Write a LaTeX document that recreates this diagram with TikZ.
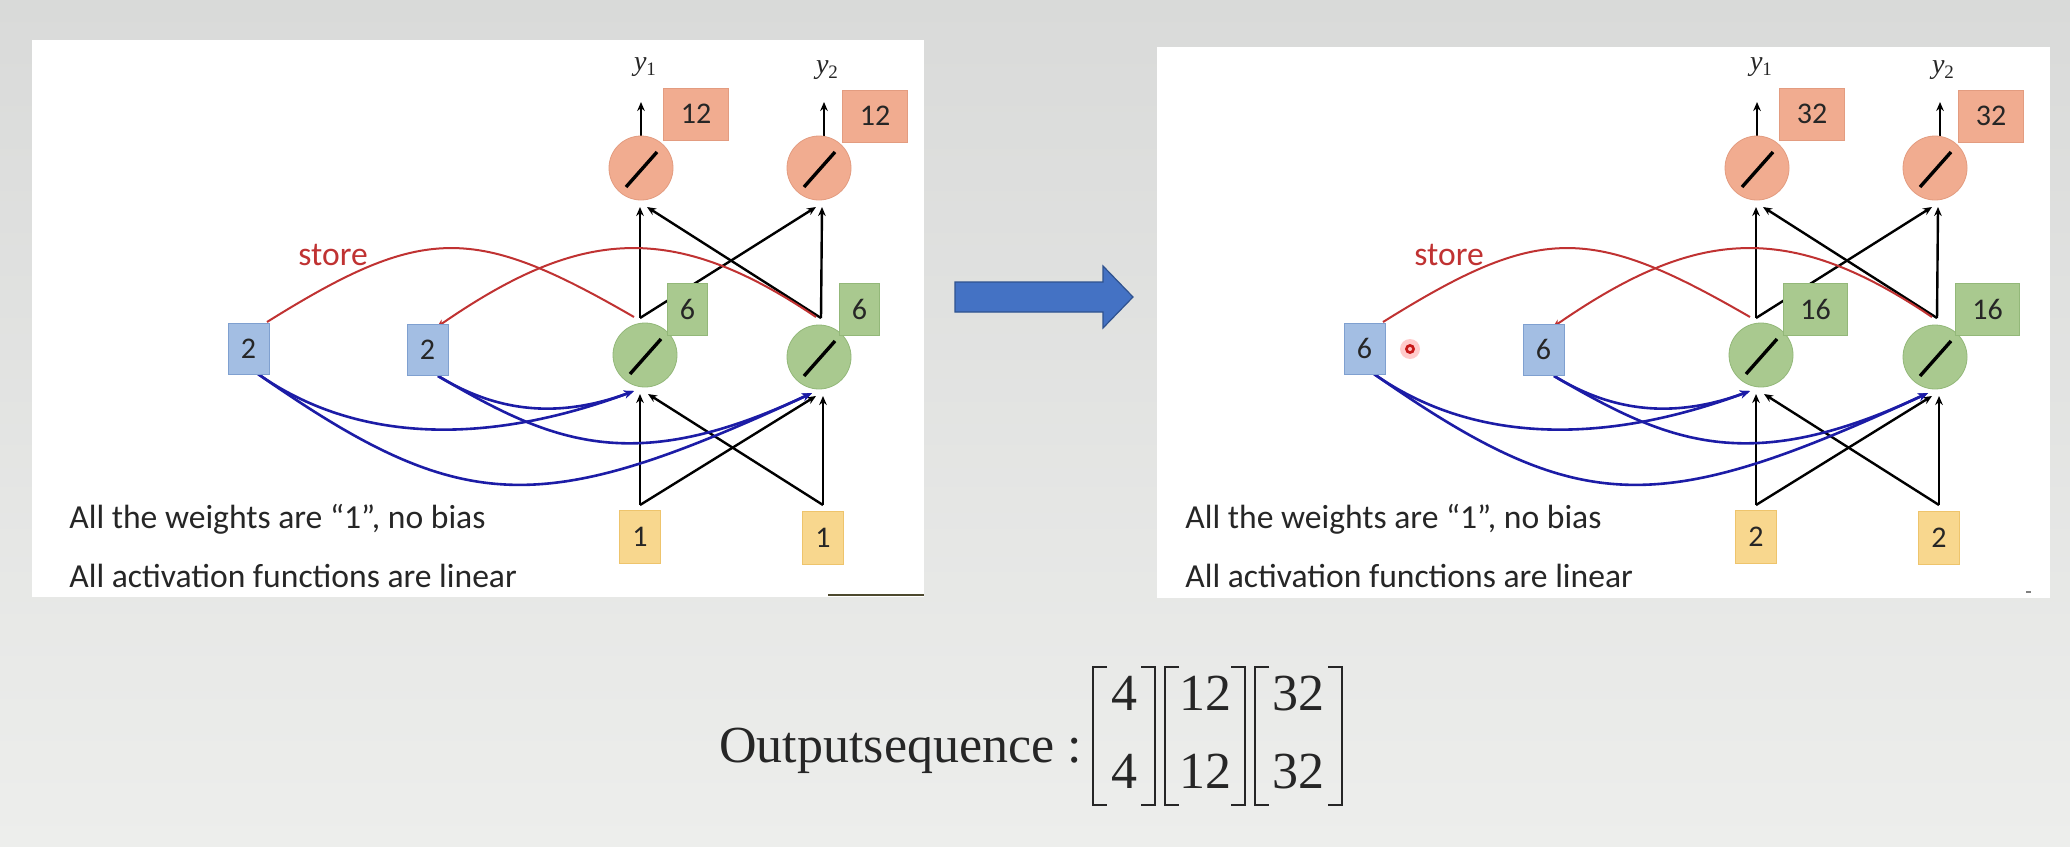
\documentclass[tikz,border=0pt]{standalone}
\usepackage{fontspec}
\setmainfont{Carlito}
\newfontfamily\tms{Liberation Serif}
\usetikzlibrary{arrows.meta,calc}
\definecolor{bgtop}{HTML}{D9DAD9}
\definecolor{bgbot}{HTML}{EDEEEC}
\definecolor{txtc}{HTML}{262626}
\definecolor{orf}{HTML}{F1AC90}
\definecolor{ord}{HTML}{E39C80}
\definecolor{grf}{HTML}{A9C98F}
\definecolor{grd}{HTML}{93B879}
\definecolor{blf}{HTML}{A3BEE3}
\definecolor{bld}{HTML}{7FA0D0}
\definecolor{ylf}{HTML}{F8D78E}
\definecolor{yld}{HTML}{EEC46C}
\definecolor{redc}{HTML}{C03232}
\definecolor{bluec}{HTML}{1C1CA6}
\definecolor{arrf}{HTML}{4472C4}
\definecolor{arrd}{HTML}{2F528F}
\pgfdeclarelayer{back}
\pgfdeclarelayer{mid}
\pgfsetlayers{back,mid,main}
\tikzset{
  box/.style={rectangle, inner sep=0pt, line width=0.5pt, text=txtc,
    font=\fontsize{15pt}{15pt}\selectfont},
  bbox/.style={box, fill=blf, draw=bld, minimum width=20.5pt, minimum height=25.5pt},
  ybox/.style={box, fill=ylf, draw=yld, minimum width=20.5pt, minimum height=26.5pt},
  gbox/.style={box, fill=grf, draw=grd, minimum height=26pt},
  obox/.style={box, fill=orf, draw=ord, minimum width=32.5pt, minimum height=26pt},
  ocirc/.style={circle, fill=orf, draw=ord, line width=0.4pt, minimum size=32pt, inner sep=0pt},
  gcirc/.style={circle, fill=grf, draw=grd, line width=0.4pt, minimum size=32pt, inner sep=0pt},
  slash/.style={line width=1.7pt, black},
  blk/.style={line width=1.2pt, black, -{Stealth[length=4.5pt,width=3.8pt]}},
  redl/.style={line width=1pt, redc},
  bluel/.style={line width=1.3pt, bluec, -{Stealth[length=5pt,width=4pt]}},
  txt/.style={text=txtc, font=\fontsize{16.8pt}{20pt}\selectfont, inner sep=0pt},
  ylab/.style={text=txtc, inner sep=0pt},
  brk/.style={line width=1pt, txtc},
  mtx/.style={text=txtc, inner sep=0pt, font=\tms\fontsize{26pt}{26pt}\selectfont}
}
\newcommand\ylabel[1]{{\tms\itshape\fontsize{14pt}{14pt}\selectfont y}\raisebox{-2.5pt}{\tms\fontsize{9.5pt}{9.5pt}\selectfont #1}}
% #1 xshift, #2 prefix, #3 blue, #4 yellow, #5 green, #6 orange, #7 green box width
\newcommand\panel[7]{%
\begin{scope}[xshift=#1]
  \node[bbox] (#2b1) at (248.5,348.5) {#3};
  \node[bbox] (#2b2) at (427.5,349.5) {#3};
  \node[ocirc] (#2o1) at (641,168) {};
  \node[ocirc] (#2o2) at (819,168) {};
  \node[gcirc] (#2g1) at (645,355) {};
  \node[gcirc] (#2g2) at (819,357) {};
  \foreach \c in {#2o1,#2o2,#2g1,#2g2}{
    \draw[slash] ($(\c)+(-15,19)$) -- ($(\c)+(16,-16)$);
  }
  \node[ybox] (#2y1) at (640,537) {#4};
  \node[ybox] (#2y2) at (823,538) {#4};
  \node[obox, anchor=west] (#2ob1) at (663,114) {#6};
  \node[obox, anchor=west] (#2ob2) at (842,116) {#6};
  \node[gbox, minimum width=#7, anchor=west] (#2gb1) at (667,309) {#5};
  \node[gbox, minimum width=#7, anchor=west] (#2gb2) at (839,309) {#5};
  \node[ylab] (#2l1) at (645,67) {\ylabel{1}};
  \node[ylab] (#2l2) at (827,70) {\ylabel{2}};
  \node[txt, text=redc, anchor=base west] (#2st) at (298,265) {store};
  \node[txt, anchor=base west] (#2t1) at (69,528) {All the weights are “1”, no bias};
  \node[txt, anchor=base west] (#2t2) at (69,587) {All activation functions are linear};
  % connector points
  \coordinate (#2g1t) at (640,318);
  \coordinate (#2g2t) at (821,318);
  \coordinate (#2o1v) at (640,207);
  \coordinate (#2o1x) at (647,207);
  \coordinate (#2o2x) at (816,207);
  \coordinate (#2o2v) at (822,207);
  \coordinate (#2y1t) at (640,505);
  \coordinate (#2y2t) at (823,505);
  \coordinate (#2g1v) at (640,394);
  \coordinate (#2g1x) at (648,394);
  \coordinate (#2g2x) at (816,396);
  \coordinate (#2g2v) at (823,396);
  \coordinate (#2g1b) at (634,391);
  \coordinate (#2g2b) at (812,393);
  \coordinate (#2b1s) at (258,374);
  \coordinate (#2b2s) at (438,376);
  \coordinate (#2b1r) at (267,322);
  \coordinate (#2b2r) at (437,327);
  \coordinate (#2g1r) at (634,317);
  \coordinate (#2g2r) at (816,317);
  \coordinate (#2o1u) at (641,136);
  \coordinate (#2o1a) at (641,102);
  \coordinate (#2o2u) at (824,136);
  \coordinate (#2o2a) at (824,102);
  \begin{pgfonlayer}{mid}
    \draw[blk] (#2g1t) -- (#2o1v);
    \draw[blk] (#2g1t) -- (#2o2x);
    \draw[blk] (#2g2t) -- (#2o1x);
    \draw[blk] (#2g2t) -- (#2o2v);
    \draw[blk] (#2y1t) -- (#2g1v);
    \draw[blk] (#2y1t) -- (#2g2x);
    \draw[blk] (#2y2t) -- (#2g1x);
    \draw[blk] (#2y2t) -- (#2g2v);
    \draw[blk] (#2o1u) -- (#2o1a);
    \draw[blk] (#2o2u) -- (#2o2a);
    \draw[redl] (#2b1r) .. controls (424,224) and (474,224.5) .. (#2g1r);
    \draw[redl, -{Stealth[length=4pt,width=3.5pt]}] (#2g2r) .. controls (672,220) and (580,228) .. (#2b2r);
    \draw[bluel] (#2b1s) .. controls (356,443) and (486,446) .. (#2g1b);
    \draw[bluel] (#2b1s) .. controls (463,517) and (540,519) .. (#2g2b);
    \draw[bluel] (#2b2s) .. controls (481,402) and (542,425) .. (#2g1b);
    \draw[bluel] (#2b2s) .. controls (551,442) and (631,478) .. (#2g2b);
  \end{pgfonlayer}
\end{scope}}

\begin{document}
\begin{tikzpicture}[x=0.5pt, y=-0.5pt]
\useasboundingbox (0,0) rectangle (2070,846);
\begin{pgfonlayer}{back}
  \shade[top color=bgtop, bottom color=bgbot] (0,0) rectangle (2070,846);
  \fill[white] (32,40) rectangle (924,597);
  \fill[white] (1157,47) rectangle (2050,598);
  \draw[line width=1pt, color=black!60!olive] (828,595) -- (924,595);
  \draw[line width=0.8pt, color=black!50] (2026,592) -- (2031,592);
\end{pgfonlayer}

\panel{0pt}{L}{2}{1}{6}{12}{20pt}
\panel{558pt}{R}{6}{2}{16}{32}{32pt}

% red pointer dot
\fill[red!40, opacity=0.5] (1410,349) circle (10);
\fill[red!75!black!90] (1410,349) circle (5);
\fill[red!25] (1410,349) circle (2);

% big blue arrow
\filldraw[fill=arrf, draw=arrd, line width=0.6pt]
  (955,282) -- (1103,282) -- (1103,266) -- (1133,297) -- (1103,328) -- (1103,312) -- (955,312) -- cycle;

% output sequence
\node[mtx, anchor=base west] (os) at (719,762) {Outputsequence :};
\node[mtx, anchor=base] (m11) at (1124,710) {4};
\node[mtx, anchor=base] (m12) at (1124,788) {4};
\node[mtx, anchor=base] (m21) at (1205,710) {12};
\node[mtx, anchor=base] (m22) at (1205,788) {12};
\node[mtx, anchor=base] (m31) at (1298.5,710) {32};
\node[mtx, anchor=base] (m32) at (1298.5,788) {32};
\foreach \l/\r in {1093/1155, 1165/1245, 1255/1342}{
  \draw[brk] (\l+14,667) -- (\l,667) -- (\l,805) -- (\l+14,805);
  \draw[brk] (\r-14,667) -- (\r,667) -- (\r,805) -- (\r-14,805);
}
\end{tikzpicture}
\end{document}
